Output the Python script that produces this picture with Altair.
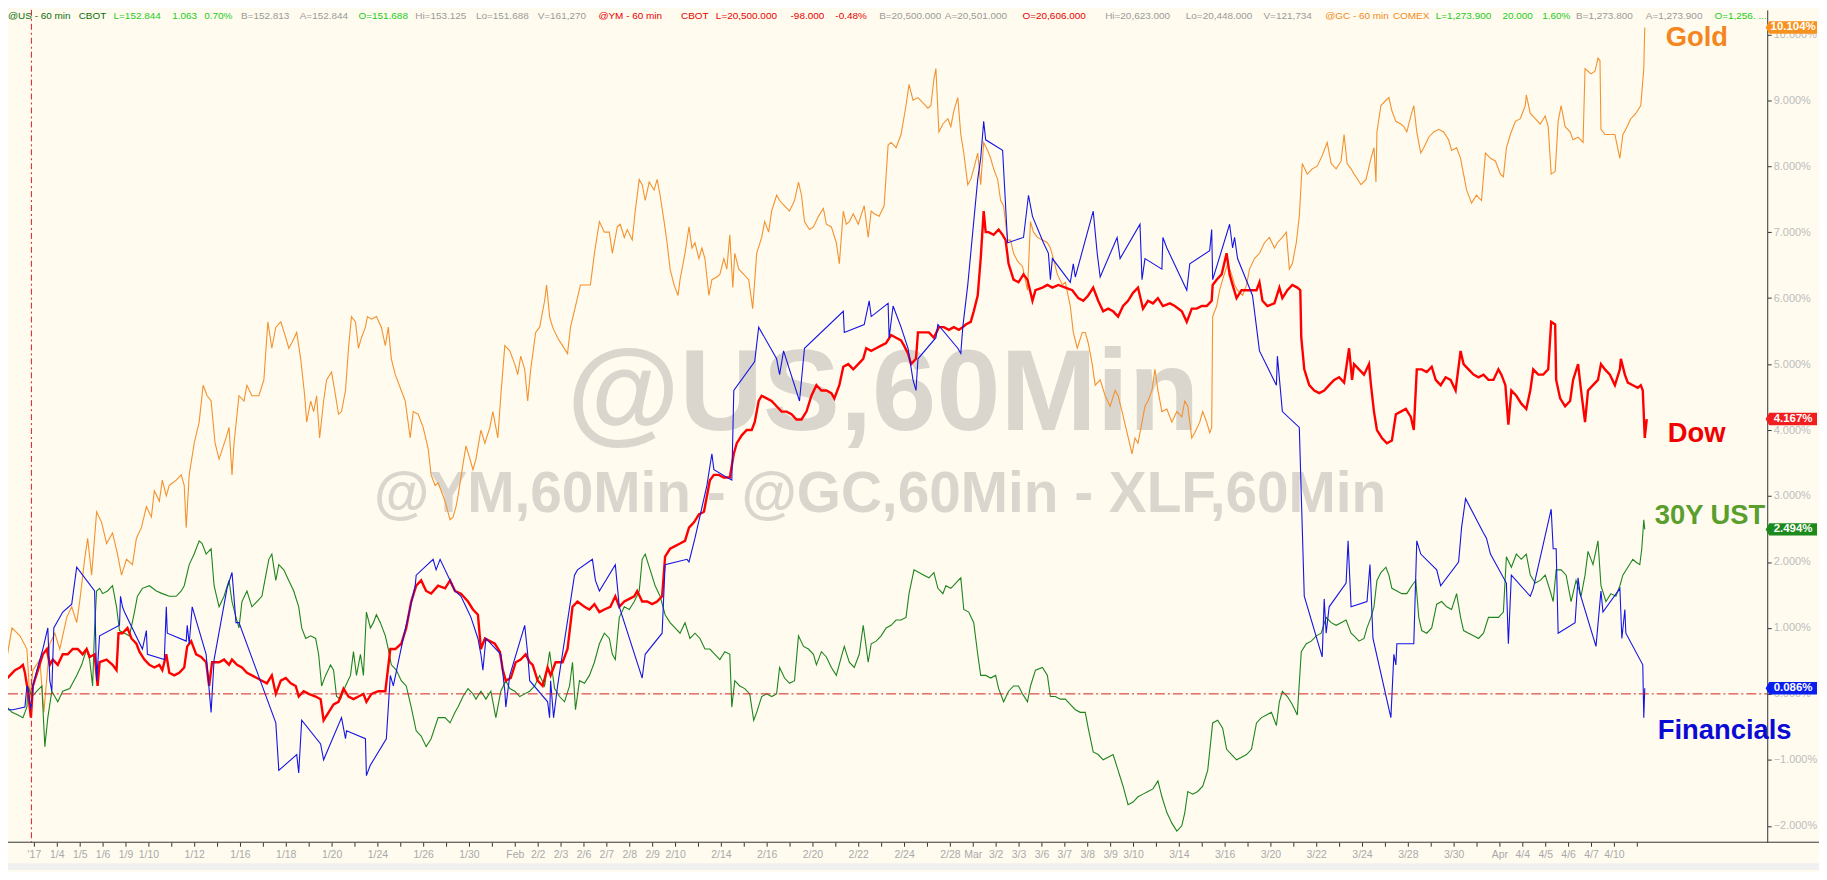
import json
import altair as alt
import pandas as pd

# ---------------- data (x = hourly bar index since the 2017 open, y = % change) ----------------
gold = [(-31,0.2),(-22,1.0),(-14,0.88),(-7,0.68),(-4,-0.08),(-1,0.36),(6,0.52),(10,-0.28),(16,0.76),(21,0.92),(26,0.68),(33,1.16),(38,1.32),(43,1.08),(46,1.4),(51,2.04),(54,2.36),(58,1.8),(63,2.76),(68,2.6),(73,2.28),(79,2.44),(84,2.12),(88,1.8),(93,2.04),(99,1.96),(103,2.36),(108,2.52),(113,2.84),(118,2.68),(121,3.08),(126,2.92),(129,3.24),(133,3.0),(136,3.16),(143,3.24),(148,3.32),(151,3.16),(153,2.52),(156,3.32),(161,3.8),(166,4.12),(170,4.68),(174,4.52),(178,4.44),(182,3.8),(186,3.56),(193,3.88),(196,4.04),(199,3.32),(201,3.8),(206,4.52),(211,4.44),(214,4.68),(219,4.52),(226,4.52),(231,4.76),(235,5.64),(239,5.24),(243,5.56),(248,5.64),(253,5.4),(256,5.24),(259,5.32),(264,5.48),(268,5.08),(272,4.52),(274,4.12),(278,4.44),(281,4.28),(284,4.52),(287,3.88),(291,4.44),(294,4.76),(299,4.88),(303,4.52),(306,4.24),(309,4.28),(313,4.6),(316,5.24),(319,5.72),(323,5.64),(326,5.24),(329,5.4),(333,5.56),(335,5.72),(339,5.68),(344,5.72),(349,5.56),(353,5.28),(356,5.56),(359,5.08),(363,4.84),(369,4.6),(373,4.44),(378,3.88),(381,4.28),(386,4.24),(391,4.04),(396,3.72),(399,3.32),(403,3.16),(406,3.2),(413,2.92),(418,2.64),(421,2.68),(424,2.84),
        (426,3.0),(431,3.48),(434,3.76),(438,3.56),(441,3.4),(444,3.56),(449,4.0),(453,3.8),(458,4.04),(461,4.28),(466,3.88),(469,4.52),(473,5.28),(478,5.2),(483,5.0),(486,4.84),(489,5.12),(493,4.92),(496,4.44),(499,4.92),(504,5.48),(508,5.56),(513,5.96),(515,6.2),(518,5.72),(521,5.56),(526,5.4),(531,5.28),(536,5.16),(539,5.56),(544,5.88),(549,6.2),(554,6.2),(559,6.2),(563,6.68),(568,7.16),(573,7.0),(578,7.0),(581,6.68),(586,7.08),(589,7.12),(593,6.92),(596,7.04),(601,6.88),(604,7.32),(608,7.8),(611,7.72),(614,7.48),(618,7.76),(623,7.64),(626,7.8),(629,7.56),(633,7.16),(636,6.84),(639,6.44),(643,6.2),(647,6.04),(649,6.28),(654,6.68),(658,7.08),(661,6.76),(664,6.84),(668,6.6),(671,6.76),(674,6.6),(678,6.04),(681,6.28),(686,6.32),(689,6.36),(693,6.6),(696,6.44),(699,6.96),(702,6.16),(704,6.68),(708,6.44),(713,6.36),(718,6.28),(722,5.84),(726,6.68),(731,6.92),(734,7.16),(738,7.0),(741,7.32),(746,7.56),(749,7.48),(754,7.4),(759,7.32),(764,7.48),(768,7.76),(771,7.56),(774,7.16),(779,7.04),(783,7.08),(788,7.24),(793,7.36),(796,7.12),(801,7.08),(806,6.84),(809,6.52),(813,7.32),(816,7.12),(819,7.16),(823,7.28),(828,7.12),(834,7.4),(838,6.92),(841,7.32),(844,7.28),(849,7.24),(854,7.4),(858,8.32),(861,8.36),(866,8.28),
        (871,8.48),(876,8.92),(879,9.24),(883,9.0),(888,9.04),(893,8.96),(898,8.88),(901,8.92),(904,9.32),(906,9.48),(909,8.52),(913,8.64),(918,8.72),(921,8.6),(924,8.84),(928,9.04),(931,8.48),(934,8.2),(938,7.72),(941,7.8),(944,7.96),(948,8.2),(951,7.72),(954,8.36),(958,8.24),(961,8.12),(964,7.96),(968,7.8),(971,7.48),(974,7.4),(978,6.88),(981,6.88),(984,6.68),(988,6.56),(993,6.48),(998,6.12),(1001,7.16),(1004,7.0),(1008,6.92),(1013,6.88),(1018,6.84),(1021,6.76),(1024,6.6),(1028,6.36),(1033,6.2),(1036,6.24),(1041,5.88),(1044,5.48),(1048,5.24),(1053,5.48),(1056,5.48),(1059,5.32),(1063,5.0),(1066,4.68),(1071,4.76),(1076,4.52),(1081,4.36),(1086,4.6),(1089,4.52),(1093,4.28),(1098,3.96),(1103,3.64),(1106,3.88),(1109,3.8),(1113,4.12),(1116,4.36),(1119,4.44),(1123,4.6),(1126,4.92),(1129,4.6),(1133,4.28),(1138,4.32),(1143,4.12),(1148,4.28),(1153,4.2),(1156,4.44),(1159,4.36),(1163,3.88),(1166,3.96),(1171,4.12),(1174,4.28),(1178,4.12),(1181,3.96),(1183,4.04),(1184,5.72),(1188,5.88),(1191,6.12),(1194,6.28),(1199,6.52),(1203,6.36),(1206,6.2),(1209,6.12),(1214,6.04),(1218,6.2),(1221,6.44),(1226,6.6),(1231,6.68),(1236,6.84),(1241,6.92),(1246,6.76),(1249,6.84),(1254,6.92),(1258,7.0),(1261,6.44),(1264,6.52),(1268,6.84),(1271,7.24),(1274,8.04),(1279,7.88),(1284,7.96),(1289,8.0),(1294,8.16),(1299,8.36),(1303,8.04),(1308,7.96),(1313,8.08),(1316,8.48),(1319,8.04),(1323,7.96),(1326,7.88),
        (1328,7.84),(1333,7.72),(1338,7.8),(1343,8.12),(1346,8.28),(1348,7.76),(1349,8.52),(1353,8.92),(1358,9.0),(1361,9.04),(1364,8.84),(1368,8.68),(1373,8.64),(1376,8.6),(1379,8.52),(1383,8.76),(1386,8.92),(1389,8.52),(1393,8.2),(1396,8.28),(1401,8.44),(1406,8.52),(1411,8.56),(1416,8.52),(1421,8.4),(1424,8.24),(1429,8.28),(1433,8.12),(1436,7.88),(1439,7.64),(1444,7.44),(1449,7.56),(1454,7.48),(1458,8.2),(1463,8.12),(1468,8.08),(1473,7.88),(1476,7.84),(1479,8.28),(1483,8.48),(1488,8.68),(1493,8.72),(1498,8.92),(1499,9.08),(1503,8.8),(1508,8.72),(1513,8.64),(1518,8.76),(1521,8.6),(1524,7.88),(1528,7.92),(1531,8.68),(1534,8.92),(1538,8.6),(1543,8.52),(1546,8.4),(1551,8.44),(1556,8.36),(1558,9.48),(1561,9.44),(1564,9.4),(1568,9.44),(1571,9.64),(1573,9.6),(1574,8.56),(1578,8.48),(1583,8.48),(1588,8.48),(1593,8.12),(1596,8.48),(1599,8.56),(1604,8.72),(1609,8.8),(1614,8.92),(1617,9.48),(1618,10.104)]

dow = [(-34,0.32),(-29,0.2),(-24,0.28),(-19,0.36),(-14,0.4),(-11,0.44),(-9,0.32),(-6,0.04),(-3,-0.36),(-1,0.12),(4,0.36),(9,0.6),(13,0.68),(16,0.44),(19,0.52),(24,0.44),(29,0.6),(34,0.6),(39,0.68),(44,0.68),(49,0.6),(53,0.68),(56,0.56),(61,0.6),(64,0.12),(66,0.48),(73,0.52),(79,0.44),(83,0.36),(85,0.92),(89,0.92),(94,1.0),(98,0.84),(103,0.76),(106,0.64),(111,0.52),(116,0.44),(121,0.4),(126,0.44),(129,0.36),(133,0.6),(136,0.32),(141,0.28),(146,0.32),(151,0.4),(154,0.72),(158,0.8),(163,0.6),(168,0.56),(173,0.48),(176,0.12),(179,0.48),(186,0.48),(191,0.52),(196,0.44),(199,0.52),(204,0.44),(209,0.4),(214,0.32),(219,0.28),(224,0.24),(229,0.2),(234,0.16),(239,0.28),(243,0.0),(248,0.2),(253,0.24),(258,0.16),(263,0.12),(266,-0.04),(271,0.04),(276,0.0),(283,-0.04),(288,-0.08),(291,-0.4),(296,-0.28),(301,-0.16),(306,-0.12),(311,0.08),(316,-0.04),(321,-0.08),(326,-0.04),(331,0.0),(334,-0.12),(339,0.0),(346,0.04),(353,0.04),(358,0.68),(363,0.68),(369,0.76),(374,1.0),(379,1.4),(384,1.64),(389,1.72),(394,1.56),(399,1.52),(406,1.64),(413,1.6),(418,1.72),(423,1.56),
       (429,1.52),(436,1.4),(441,1.28),(446,1.2),(449,0.68),(453,0.84),(458,0.8),(463,0.76),(468,0.64),(471,0.36),(474,0.2),(479,0.24),(484,0.48),(489,0.52),(494,0.6),(498,0.48),(501,0.44),(506,0.2),(511,0.12),(516,0.4),(519,0.28),(524,0.48),(531,0.48),(536,0.68),(541,1.32),(546,1.4),(553,1.32),(558,1.28),(563,1.36),(568,1.24),(573,1.28),(579,1.32),(584,1.48),(588,1.32),(593,1.4),(598,1.44),(603,1.48),(606,1.56),(611,1.4),(616,1.4),(621,1.36),(626,1.4),(631,1.48),(634,2.08),(639,2.2),(644,2.24),(649,2.28),(654,2.32),(658,2.52),(663,2.6),(668,2.72),(673,2.76),(676,3.0),(679,3.24),(683,3.32),(688,3.32),(693,3.28),(699,3.28),(703,3.64),(706,3.8),(711,3.92),(716,4.0),(721,4.0),(724,4.12),(728,4.44),(731,4.52),(736,4.48),(741,4.44),(746,4.36),(751,4.28),(756,4.28),(761,4.24),(766,4.16),(771,4.16),(776,4.28),(781,4.52),(786,4.68),(791,4.6),(796,4.6),(801,4.56),(804,4.48),(809,4.68),(813,4.96),(818,5.0),(823,4.92),(828,5.0),(833,5.08),(836,5.24),(841,5.2),(846,5.24),(851,5.28),(856,5.32),(861,5.44),(866,5.4),
       (871,5.36),(874,5.28),(878,5.16),(881,5.0),(886,5.08),(888,5.48),(893,5.48),(899,5.48),(904,5.4),(909,5.56),(914,5.56),(919,5.52),(924,5.56),(929,5.52),(933,5.56),(936,5.6),(941,5.64),(944,5.8),(948,6.04),(951,6.6),(954,7.32),(956,7.0),(959,7.0),(964,6.96),(969,7.04),(973,6.96),(976,6.88),(979,6.52),(984,6.28),(989,6.24),(994,6.36),(998,6.28),(1003,5.96),(1006,6.12),(1013,6.16),(1018,6.2),(1023,6.16),(1029,6.2),(1036,6.16),(1043,6.12),(1049,6.0),(1054,5.96),(1059,6.04),(1064,6.16),(1069,5.96),(1074,5.8),(1079,5.84),(1084,5.8),(1089,5.72),(1094,5.88),(1099,5.96),(1104,6.08),(1109,6.16),(1114,5.84),(1119,5.96),(1124,5.92),(1129,6.0),(1134,5.88),(1141,5.92),(1146,5.88),(1153,5.8),(1158,5.64),(1163,5.84),(1168,5.84),(1173,5.88),(1178,5.88),(1183,5.96),(1184,6.2),(1188,6.28),(1193,6.36),(1198,6.68),(1201,6.36),(1204,6.2),(1208,6.0),(1213,6.12),(1218,6.12),(1223,6.12),(1228,6.12),(1231,6.24),(1234,5.96),(1239,5.88),(1246,5.92),(1251,6.16),(1254,6.0),(1259,6.12),(1264,6.2),(1269,6.16),(1272,6.12),(1273,5.4),(1276,4.92),(1281,4.68),(1286,4.6),(1291,4.56),(1296,4.6),(1301,4.68),(1306,4.76),(1311,4.8),(1316,4.72),(1321,5.24),(1324,4.76),
       (1326,5.0),(1331,4.92),(1336,4.84),(1341,5.0),(1343,4.68),(1346,4.28),(1349,4.0),(1354,3.88),(1359,3.8),(1364,3.84),(1368,4.24),(1373,4.28),(1378,4.32),(1383,4.2),(1386,4.0),(1389,4.92),(1394,4.92),(1399,4.88),(1404,4.96),(1408,4.76),(1413,4.68),(1418,4.8),(1423,4.76),(1428,4.6),(1433,5.2),(1436,5.0),(1441,4.92),(1446,4.84),(1451,4.8),(1456,4.84),(1461,4.76),(1466,4.76),(1471,4.92),(1474,4.84),(1478,4.68),(1481,4.08),(1484,4.6),(1489,4.52),(1494,4.4),(1499,4.32),(1503,4.6),(1506,4.92),(1511,4.84),(1516,4.84),(1521,4.92),(1524,5.64),(1528,5.6),(1529,4.76),(1533,4.48),(1538,4.36),(1543,4.44),(1546,4.76),(1551,5.0),(1554,4.6),(1558,4.12),(1561,4.6),(1566,4.68),(1571,4.76),(1574,5.0),(1578,4.92),(1583,4.84),(1588,4.68),(1593,4.92),(1594,5.08),(1598,4.84),(1601,4.72),(1606,4.68),(1611,4.64),(1614,4.68),(1616,4.6),(1618,3.88),(1620,4.167)]

ust30 = [(-34,-0.2),(-31,-0.36),(-27,-0.2),(-22,-0.28),(-16,-0.32),(-11,-0.36),(-7,-0.2),(-6,0.12),(-2,-0.04),(3,0.04),(8,0.12),(11,-0.8),(14,-0.36),(18,0.04),(21,-0.04),(24,-0.12),(29,0.04),(36,0.08),(43,0.28),(48,0.44),(53,0.68),(56,0.52),(59,0.12),(61,1.0),(63,1.56),(66,1.6),(69,1.52),(74,1.56),(79,1.64),(83,1.32),(86,0.96),(91,0.92),(96,0.88),(101,1.24),(104,1.48),(109,1.6),(116,1.64),(123,1.56),(129,1.52),(136,1.48),(143,1.48),(148,1.56),(151,1.64),(156,1.96),(161,2.12),(166,2.32),(169,2.28),(173,2.12),(178,2.2),(181,1.64),(186,1.32),(191,1.48),(196,1.72),(199,1.4),(203,1.16),(206,1.0),(209,1.4),(214,1.56),(219,1.32),(224,1.4),(229,1.48),(233,1.8),(236,2.04),(239,2.12),(243,1.72),(246,1.96),(251,1.88),(256,1.72),(261,1.56),(266,1.32),(269,1.0),(273,0.84),(278,0.88),(283,0.84),(286,0.6),(289,0.12),(293,0.28),(298,0.44),(301,0.36),(304,-0.04),(308,-0.08),(313,0.12),(318,0.28),(321,0.64),(324,0.28),(328,0.6),(331,0.28),(334,1.24),(338,1.0),(341,1.08),(344,1.2),(348,1.08),(353,0.88),(356,0.68),(359,0.44),(364,0.36),(369,0.2),(374,0.12),(379,-0.2),(384,-0.56),(389,-0.64),(394,-0.8),(399,-0.68),(406,-0.36),(413,-0.36),(418,-0.44),(423,-0.28),
         (426,-0.2),(431,-0.04),(436,0.08),(441,0.0),(444,-0.08),(449,0.04),(454,-0.08),(459,0.04),(464,-0.36),(469,0.04),(474,0.2),(478,0.08),(483,0.04),(488,-0.04),(493,0.0),(498,0.04),(503,0.12),(508,0.28),(513,0.12),(518,0.64),(523,0.08),(528,-0.04),(533,-0.12),(538,0.12),(541,0.48),(544,-0.24),(548,0.2),(553,0.16),(558,0.28),(563,0.48),(568,0.76),(573,0.92),(578,0.84),(581,0.6),(584,0.52),(588,1.16),(593,1.32),(598,1.28),(603,1.4),(608,1.56),(611,2.04),(614,2.12),(619,1.88),(624,1.64),(629,1.48),(634,1.2),(639,1.08),(644,1.0),(649,0.92),(654,1.08),(659,0.84),(664,0.92),(669,0.84),(674,0.68),(679,0.68),(684,0.6),(689,0.52),(694,0.64),(699,0.6),(701,-0.2),(704,0.2),(709,0.12),(714,0.08),(719,0.0),(723,-0.4),(726,-0.28),(731,-0.04),(736,0.0),(741,-0.04),(746,0.0),(749,0.4),(754,0.24),(759,0.16),(764,0.2),(768,0.88),(773,0.72),(778,0.68),(783,0.6),(786,0.44),(791,0.64),(796,0.56),(801,0.4),(806,0.28),(811,0.56),(814,0.72),(819,0.48),(824,0.4),(829,0.6),(833,1.04),(838,0.48),(841,0.76),(846,0.8),(851,0.88),(856,1.0),(861,1.04),(866,1.12),
         (871,1.12),(876,1.16),(879,1.52),(884,1.88),(889,1.84),(894,1.8),(899,1.76),(904,1.84),(908,1.6),(913,1.52),(916,1.64),(921,1.6),(926,1.68),(931,1.76),(934,1.28),(939,1.24),(944,1.08),(948,0.6),(951,0.28),(956,0.28),(961,0.24),(966,0.28),(969,0.08),(974,-0.12),(979,0.04),(984,0.12),(989,0.12),(993,0.0),(998,-0.12),(1001,0.12),(1006,0.36),(1013,0.4),(1018,0.28),(1021,-0.04),(1026,-0.04),(1031,-0.08),(1036,-0.08),(1041,-0.16),(1046,-0.24),(1051,-0.28),(1056,-0.28),(1059,-0.52),(1064,-0.88),(1069,-0.92),(1074,-1.0),(1079,-0.96),(1084,-0.92),(1089,-1.16),(1094,-1.4),(1099,-1.68),(1104,-1.64),(1109,-1.56),(1114,-1.52),(1119,-1.48),(1124,-1.44),(1129,-1.32),(1133,-1.56),(1138,-1.8),(1143,-1.96),(1148,-2.08),(1153,-2.0),(1156,-1.8),(1159,-1.48),(1164,-1.52),(1169,-1.48),(1174,-1.4),(1179,-1.16),(1184,-0.44),(1189,-0.4),(1194,-0.52),(1198,-0.84),(1203,-0.92),(1208,-1.0),(1213,-0.96),(1218,-0.92),(1223,-0.84),(1228,-0.44),(1233,-0.36),(1238,-0.32),(1243,-0.28),(1248,-0.48),(1251,-0.12),(1254,0.04),(1259,-0.04),(1264,-0.16),(1269,-0.32),(1273,0.64),(1278,0.76),(1283,0.8),(1288,0.88),(1293,0.92),(1298,1.16),(1303,1.08),(1308,1.04),(1313,1.08),(1318,1.12),(1323,0.92),
         (1326,0.88),(1331,0.8),(1336,0.84),(1339,1.0),(1343,1.16),(1346,1.32),(1349,1.72),(1353,1.84),(1358,1.92),(1361,1.8),(1364,1.6),(1369,1.56),(1374,1.52),(1379,1.52),(1384,1.64),(1388,1.72),(1391,1.16),(1394,0.96),(1399,0.92),(1404,1.0),(1409,1.36),(1414,1.4),(1419,1.32),(1424,1.28),(1429,1.52),(1433,1.16),(1436,0.96),(1441,0.92),(1446,0.88),(1451,0.84),(1456,0.92),(1461,1.16),(1466,1.16),(1471,1.16),(1476,1.24),(1479,2.08),(1484,1.92),(1489,2.12),(1494,2.04),(1499,2.12),(1503,1.8),(1508,1.68),(1513,1.72),(1518,1.8),(1523,1.56),(1526,1.4),(1529,1.88),(1534,1.88),(1539,1.8),(1544,1.4),(1549,1.72),(1554,1.48),(1558,1.8),(1561,2.16),(1566,1.96),(1571,2.32),(1574,1.64),(1579,1.4),(1584,1.52),(1589,1.48),(1593,1.64),(1596,1.8),(1601,1.92),(1606,2.04),(1609,2.0),(1613,1.96),(1615,2.2),(1617,2.64),(1618,2.494)]

financials = [(-34,0.4),(-31,-0.2),(-29,-0.56),(-27,-0.24),(-21,-0.24),(-9,-0.2),(-7,0.12),(-6,0.08),(-3,-0.24),(-1,0.12),(3,0.36),(9,0.68),(14,1.0),(16,0.2),(18,0.04),(20,1.0),(29,1.24),(38,1.36),(43,1.92),(61,1.56),(63,0.2),(66,0.88),(86,1.04),(87,1.48),(89,1.32),(91,1.24),(109,0.68),(113,0.96),(114,0.6),(131,0.52),(133,1.32),(134,0.92),(153,0.8),(154,1.04),(156,0.76),(159,1.32),(173,0.6),(178,-0.28),(181,0.52),(194,1.6),(199,1.84),(203,1.08),(206,1.08),(243,-0.44),(246,-1.16),(264,-0.92),(266,-1.2),(269,-0.4),(288,-0.76),(291,-1.0),(309,-0.36),(313,-0.68),(314,-0.56),(333,-0.68),(334,-1.24),(338,-1.08),(354,-0.68),(358,0.28),(361,0.12),(371,0.84),(383,1.64),(384,1.8),(401,2.04),(404,1.88),(408,2.04),(423,1.56),
              (429,1.48),(434,1.32),(439,1.16),(446,0.84),(449,0.6),(451,0.36),(454,0.84),(469,0.6),(473,0.04),(474,-0.2),(478,0.28),(493,1.04),(496,0.6),(498,0.2),(516,-0.12),(518,-0.36),(519,0.2),(522,-0.36),(526,0.12),(543,1.8),(546,1.88),(561,2.04),(564,1.72),(568,1.56),(584,1.96),(588,1.32),(611,0.24),(614,0.6),(631,0.92),(634,1.96),(656,2.04),(658,2.0),(664,2.36),(676,3.16),(681,3.64),(683,3.4),(701,3.24),(703,4.6),(724,5.04),(728,5.56),(746,5.08),(749,4.84),(753,5.2),(769,4.44),(774,5.24),(813,5.8),(814,5.48),(834,5.6),(839,5.96),(841,5.72),(858,5.92),(859,5.4),(863,5.88),
              (871,5.56),(878,5.24),(883,4.76),(886,4.6),(888,5.08),(906,5.4),(908,5.6),(928,5.24),(931,5.16),(933,5.56),(938,6.2),(943,7.0),(948,7.8),(951,8.12),(954,8.68),(956,8.4),(973,8.24),(978,6.84),(994,6.92),(999,7.56),(1003,7.24),(1014,6.84),(1019,6.68),(1021,6.28),(1023,6.6),(1041,6.24),(1044,6.52),(1046,6.32),(1064,7.32),(1068,6.68),(1071,6.32),(1088,6.92),(1091,6.6),(1111,7.12),(1113,6.28),(1116,6.6),(1133,6.44),(1134,6.92),(1138,6.76),(1158,6.12),(1161,6.52),(1181,6.72),(1183,7.04),(1184,6.28),(1201,7.12),(1204,6.76),(1206,6.92),(1209,6.6),(1224,6.04),(1228,5.56),(1231,5.2),(1248,4.68),(1249,5.12),(1254,4.28),(1271,4.04),(1276,1.48),(1294,0.56),(1296,1.44),(1298,0.92),(1301,1.32),(1318,1.68),(1320,2.32),(1323,1.32),
              (1339,1.4),(1342,1.96),(1345,0.84),(1363,-0.36),(1366,0.6),(1368,0.44),(1369,0.76),(1386,0.76),(1389,2.32),(1393,2.12),(1409,1.88),(1413,1.64),(1431,2.0),(1434,2.52),(1438,2.96),(1456,2.44),(1459,2.36),(1463,2.12),(1479,1.68),(1481,0.76),(1484,1.8),(1503,1.48),(1506,1.6),(1524,2.8),(1526,2.2),(1529,2.2),(1531,0.92),(1548,1.08),(1551,1.76),(1553,1.52),(1569,0.72),(1574,1.56),(1576,1.24),(1593,1.6),(1595,0.84),(1598,1.28),(1599,0.92),(1616,0.44),(1617,-0.36),(1618,0.086)]

# one axis tick per trading session (23 hourly bars each)
BARS_PER_SESSION = 23
session_labels = ["'17","1/4","1/5","1/6","1/9","1/10","","1/12","","1/16","","1/18","","1/20","","1/24","","1/26","","1/30","",
                  "Feb","2/2","2/3","2/6","2/7","2/8","2/9","2/10","","2/14","","2/16","","2/20","","2/22","","2/24","","2/28",
                  "Mar","3/2","3/3","3/6","3/7","3/8","3/9","3/10","","3/14","","3/16","","3/20","","3/22","","3/24","","3/28","","3/30","",
                  "Apr","4/4","4/5","4/6","4/7","4/10",""]
pct_ticks = list(range(-2, 11))

header_text = ["@US - 60 min","CBOT","L=152.844","1.063","0.70%","B=152.813","A=152.844","O=151.688","Hi=153.125","Lo=151.688","V=161,270",
               "@YM - 60 min","CBOT","L=20,500.000","-98.000","-0.48%","B=20,500.000","A=20,501.000","O=20,606.000","Hi=20,623.000","Lo=20,448.000","V=121,734",
               "@GC - 60 min","COMEX","L=1,273.900","20.000","1.60%","B=1,273.800","A=1,273.900","O=1,256. ..."]
header_colors = ["#0A6E0A","#0A6E0A","#22CC22","#22CC22","#22CC22","#9A9A9A","#9A9A9A","#22CC22","#9A9A9A","#9A9A9A","#9A9A9A",
                 "#E80000","#E80000","#E80000","#E80000","#E80000","#9A9A9A","#9A9A9A","#E80000","#9A9A9A","#9A9A9A","#9A9A9A",
                 "#F08A1C","#F08A1C","#22CC22","#22CC22","#22CC22","#9A9A9A","#9A9A9A","#22CC22"]
# left edge of each header segment, in page pixels
header_page_x = [8,79,114,173,205,242,301,360,417,478,540,601,684,719,794,839,883,949,1027,1110,1191,1269,1331,1399,1442,1509,1549,1583,1653,1722]

# ---------------- layout ----------------
W, H = 1767, 836
TEXT_FONT = "Liberation Sans, Arial, sans-serif"
BG = "#FFFBEF"

xscale = alt.Scale(domain=[-26, W - 26], nice=False, zero=False)
yscale = alt.Scale(domain=[-(H - 687) / 66.25, 687 / 66.25], nice=False, zero=False)

xaxis = alt.Axis(values=[BARS_PER_SESSION * i for i in range(len(session_labels))],
                 labelExpr=json.dumps(session_labels) + "[round(datum.value / 23)]",
                 labelOverlap=False, domain=False, grid=False, title=None,
                 tickColor="#333333", tickSize=4, labelColor="#A9A9A9", labelFontSize=10.5,
                 labelFont=TEXT_FONT, labelPadding=3)
yaxis = alt.Axis(orient="right", values=pct_ticks, labelExpr="format(datum.value, '.3f') + '%'",
                 grid=False, title=None, domainColor="#333333", tickColor="#333333", tickSize=4,
                 labelColor="#BDBDBD", labelFontSize=11, labelFont=TEXT_FONT, labelPadding=2,
                 labelOverlap=False)

dummy = pd.DataFrame({"a": [0]})


def line(points, color, width):
    df = pd.DataFrame(points, columns=["bar", "pct"])
    return alt.Chart(df).mark_line(color=color, strokeWidth=width, clip=True).encode(
        x=alt.X("bar:Q", scale=xscale, axis=xaxis),
        y=alt.Y("pct:Q", scale=yscale, axis=yaxis),
        order="bar:Q",
    )


watermark1 = alt.Chart(dummy).mark_text(text="@US,60Min", font=TEXT_FONT, fontWeight="bold", fontSize=116,
                                         color="#DAD6CE", align="center", baseline="alphabetic").encode(
    x=alt.value(879), y=alt.value(422))
watermark2 = alt.Chart(dummy).mark_text(text="@YM,60Min - @GC,60Min - XLF,60Min", font=TEXT_FONT, fontWeight="bold",
                                         fontSize=57, color="#DAD6CE", align="center", baseline="alphabetic").encode(
    x=alt.value(876), y=alt.value(504))

zero_rule = alt.Chart(dummy).mark_rule(color="#D42020", strokeWidth=1, strokeDash=[10, 3, 2, 3]).encode(
    y=alt.datum(0, scale=yscale, axis=yaxis), x=alt.value(0), x2=alt.value(W))
year_rule = alt.Chart(dummy).mark_rule(color="#D42020", strokeWidth=1, strokeDash=[6, 3, 2, 3]).encode(
    x=alt.datum(-2.5, scale=xscale, axis=xaxis), y=alt.value(0), y2=alt.value(H))
bottom_rule = alt.Chart(dummy).mark_rule(color="#333333", strokeWidth=1).encode(
    x=alt.value(0), x2=alt.value(W + 52), y=alt.value(H))
scroll_bar = alt.Chart(dummy).mark_rect(color="#F0F0F0").encode(
    x=alt.value(0), x2=alt.value(W + 52), y=alt.value(H + 21), y2=alt.value(H + 28))

header_df = pd.DataFrame({"text": header_text, "color": header_colors, "px": [p - 8 for p in header_page_x]})
header = alt.Chart(header_df).mark_text(align="left", baseline="top", font=TEXT_FONT, fontSize=10).encode(
    x=alt.X("px:Q", scale=None), y=alt.value(1), text="text:N", color=alt.Color("color:N", scale=None))


def series_label(text, bar, pct, color):
    return alt.Chart(dummy).mark_text(text=text, font=TEXT_FONT, fontWeight="bold", fontSize=27.5, color=color,
                                       align="left", baseline="middle").encode(
        x=alt.datum(bar, scale=xscale, axis=xaxis), y=alt.datum(pct, scale=yscale, axis=yaxis))


labels = [
    series_label("Gold", 1639, 9.95, "#F5861F"),
    series_label("Dow", 1641, 3.94, "#F00000"),
    series_label("30Y UST", 1628, 2.69, "#5A9E2D"),
    series_label("Financials", 1631, -0.56, "#0A0AD6"),
]

badge_df = pd.DataFrame({
    "v": [gold[-1][1], dow[-1][1], ust30[-1][1], financials[-1][1]],
    "c": ["#F7921E", "#F01E1E", "#1C8A1C", "#0A1EF0"],
})
badge_shape = "M -1.15 0 L -1 -0.26 L 1 -0.26 L 1 0.26 L -1 0.26 Z"
badges = alt.Chart(badge_df).mark_point(shape=badge_shape, size=2304, filled=True, opacity=1, strokeWidth=0).encode(
    x=alt.value(W + 26), y=alt.Y("v:Q", scale=yscale, axis=yaxis), color=alt.Color("c:N", scale=None))
badge_text = alt.Chart(badge_df).transform_calculate(t="format(datum.v, '.3f') + '%'").mark_text(
    color="white", font=TEXT_FONT, fontWeight="bold", fontSize=11.5, align="center", baseline="middle").encode(
    x=alt.value(W + 26), y=alt.Y("v:Q", scale=yscale, axis=yaxis), text="t:N")

chart = alt.layer(
    watermark1, watermark2,
    line(gold, "#F3922E", 1.1),
    line(ust30, "#1E851E", 1.1),
    line(dow, "#FF0000", 2.4),
    line(financials, "#1414E6", 1.1),
    zero_rule, year_rule, bottom_rule, scroll_bar, header,
    *labels, badges, badge_text,
).properties(
    width=W, height=H,
    autosize=alt.AutoSizeParams(type="none"),
    padding={"left": 0, "top": 0, "right": 52, "bottom": 28},
    background=BG,
).configure_view(stroke=None)

chart.save("out.html", embed_options={"renderer": "svg", "actions": False})
